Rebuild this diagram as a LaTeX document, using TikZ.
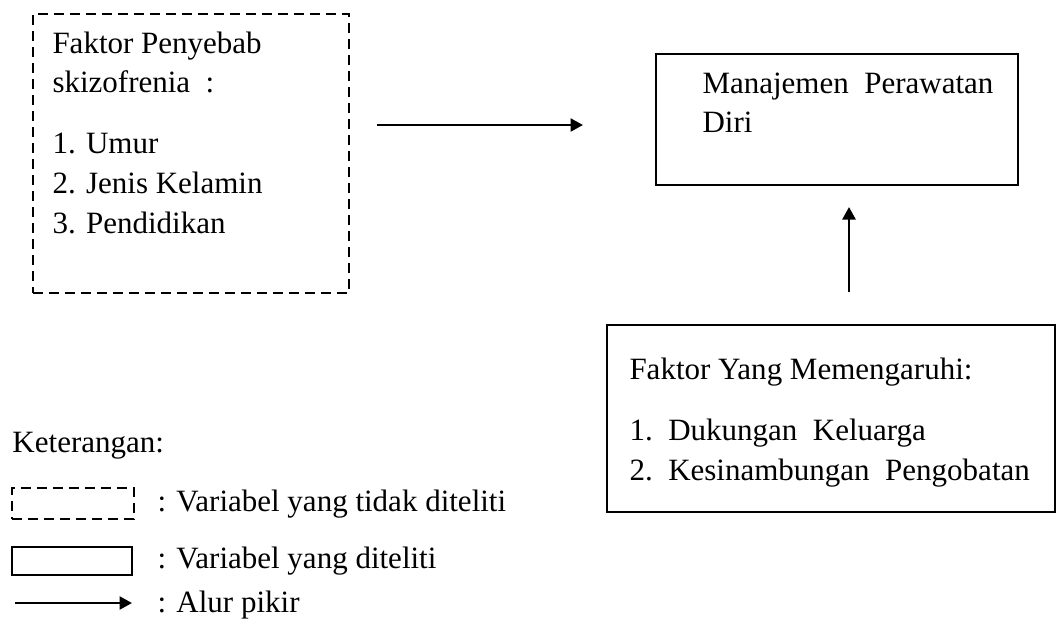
\documentclass[tikz,border=0pt]{standalone}
\usepackage{fontspec}
\setmainfont{Liberation Serif}
\usetikzlibrary{arrows.meta}
\usetikzlibrary{fit}

\begin{document}
\begin{tikzpicture}[x=0.4pt,y=-0.4pt,
        font=\fontsize{12.4pt}{15.9pt}\selectfont,
        txt/.style={anchor=base west,inner sep=0pt},
        solidbox/.style={draw,line width=0.9pt,inner sep=0pt},
        dashbox/.style={draw,line width=0.8pt,inner sep=0pt,dash pattern=on 4pt off 2.4pt},
        flow/.style={line width=1pt,-{Triangle[length=5pt,width=5.2pt]}}]
        \useasboundingbox (0,0) rectangle (1059,623);

        % kotak-kotak
        \coordinate (A1) at (33,14);
        \coordinate (A2) at (349,293);
        \coordinate (B1) at (656,54);
        \coordinate (B2) at (1018,185);
        \coordinate (C1) at (607,325);
        \coordinate (C2) at (1055,512);
        \node[dashbox,fit=(A1)(A2)] (penyebab) {};
        \node[solidbox,fit=(B1)(B2)] (manajemen) {};
        \node[solidbox,fit=(C1)(C2)] (pengaruh) {};

        % isi kotak penyebab
        \node[txt] (pA) at (52,53) {Faktor Penyebab};
        \node[txt] (pB) at (52,92) {skizofrenia\ \ :};
        \node[txt] (pC) at (52,153) {1. Umur};
        \node[txt] (pD) at (52,193) {2. Jenis Kelamin};
        \node[txt] (pE) at (52,233) {3. Pendidikan};

        % isi kotak manajemen
        \node[txt] (mA) at (702,93) {Manajemen\ \ Perawatan};
        \node[txt] (mB) at (702,132) {Diri};

        % isi kotak pengaruh
        \node[txt] (kA) at (629,379) {Faktor Yang Memengaruhi:};
        \node[txt] (kB) at (629,440) {1.\enspace Dukungan\ \ Keluarga};
        \node[txt] (kC) at (629,480) {2.\enspace Kesinambungan\ \ Pengobatan};

        % alur
        \coordinate (a1) at (377,125);
        \coordinate (a2) at (583,125);
        \coordinate (u1) at (849,292);
        \coordinate (u2) at (849,207);
        \draw[flow] (a1) -- (a2);
        \draw[flow] (u1) -- (u2);

        % keterangan
        \node[txt] (ket) at (12,452) {Keterangan:};
        \coordinate (L1) at (12,488);
        \coordinate (L2) at (134,519);
        \coordinate (L3) at (12,547);
        \coordinate (L4) at (132,575);
        \coordinate (L5) at (15,603);
        \coordinate (L6) at (132,603);
        \node[dashbox,fit=(L1)(L2)] (ketdash) {};
        \node[solidbox,fit=(L3)(L4)] (ketsolid) {};
        \draw[flow] (L5) -- (L6);
        \node[txt] (ketA) at (157,511) {: Variabel yang tidak diteliti};
        \node[txt] (ketB) at (157,568) {: Variabel yang diteliti};
        \node[txt] (ketC) at (157,612) {: Alur pikir};
    \end{tikzpicture}
\end{document}
